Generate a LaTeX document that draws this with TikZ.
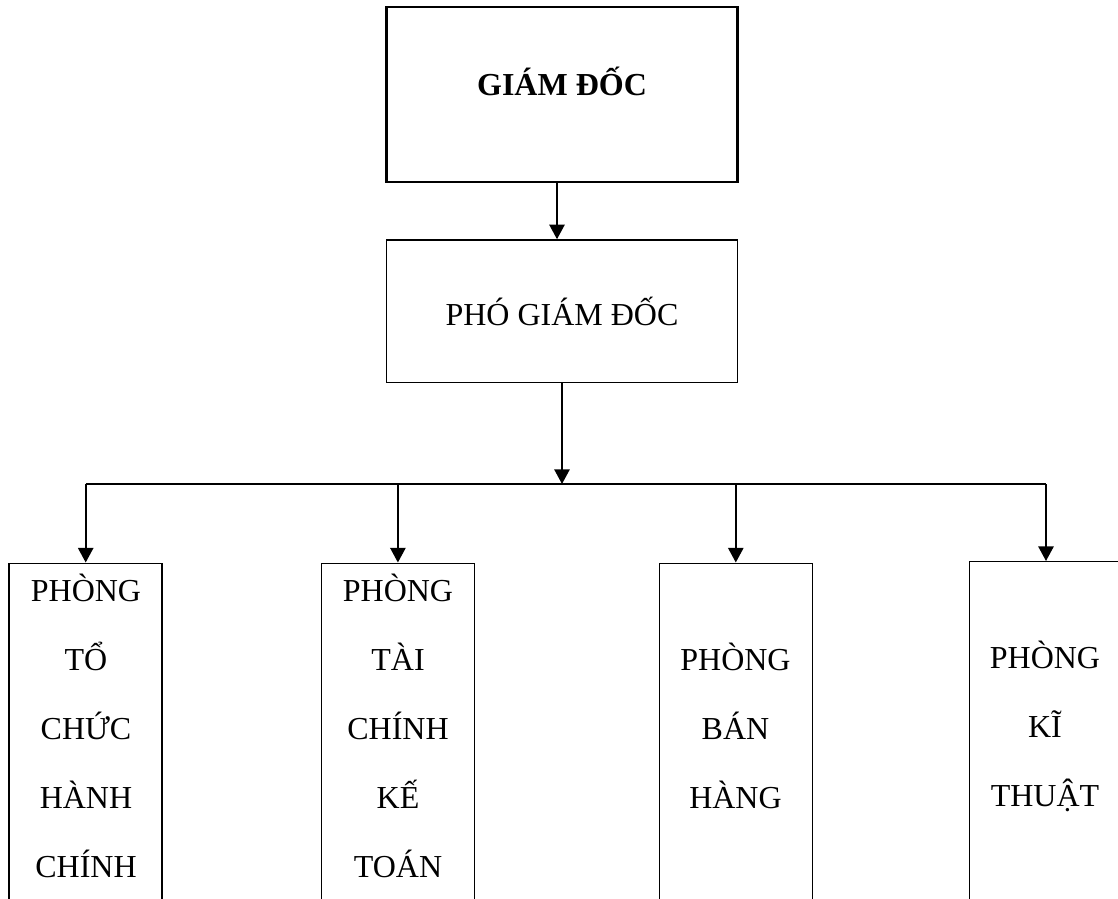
\documentclass[tikz,border=0pt]{standalone}
\usepackage{fontspec}
\setmainfont{Liberation Serif}
\usetikzlibrary{arrows.meta}
\begin{document}
\begin{tikzpicture}[x=0.75pt,y=-0.75pt,
  box/.style={draw, line width=1.1pt, rectangle, inner sep=0pt},
  dept/.style={box, minimum width=114.75pt, minimum height=270pt, anchor=north},
  lbl/.style={inner sep=0pt, anchor=base, font=\fontsize{24}{28}\selectfont},
  conn/.style={line width=1.4pt},
  arr/.style={conn, -{Triangle[length=11pt,width=11.5pt]}}]
\useasboundingbox (0,0) rectangle (1118,899);
\clip (0,0) rectangle (1118,899);
% top
\node[box, line width=1.7pt, minimum width=263.25pt, minimum height=130.8pt] (gd) at (562,94.5) {};
\node[lbl, font=\fontsize{24}{28}\selectfont\bfseries] (gdt) at (562,96) {GIÁM ĐỐC};
\node[box, minimum width=263.25pt, minimum height=107pt] (pho) at (562,311.3) {};
\node[lbl] (phot) at (562,325) {PHÓ GIÁM ĐỐC};
% departments
\node[dept] (b1) at (85.7,562.5) {};
\node[dept] (b2) at (397.9,562.5) {};
\node[dept] (b3) at (735.8,562.5) {};
\node[dept] (b4) at (1046,561) {};
\foreach \t [count=\i] in {PHÒNG,TỔ,CHỨC,HÀNH,CHÍNH}
  \node[lbl] (ta\i) at (86,{601.5+69*(\i-1)}) {\t};
\foreach \t [count=\i] in {PHÒNG,TÀI,CHÍNH,KẾ,TOÁN}
  \node[lbl] (tb\i) at (398,{601.5+69*(\i-1)}) {\t};
\foreach \t [count=\i] in {PHÒNG,BÁN,HÀNG}
  \node[lbl] (tc\i) at (735.5,{670.5+69*(\i-1)}) {\t};
\foreach \t [count=\i] in {PHÒNG,KĨ,THUẬT}
  \node[lbl] (td\i) at (1045,{668+69*(\i-1)}) {\t};
% connectors
\draw[arr] ([xshift=-3.75pt]gd.south) -- ([xshift=-3.75pt]pho.north);
\coordinate (hub) at (562,484);
\draw[arr] (pho.south) -- (hub);
\draw[conn] (b1.north |- hub) -- (b4.north |- hub);
\foreach \b in {b1,b2,b3,b4}
  \draw[arr] (\b.north |- hub) -- (\b.north);
\end{tikzpicture}
\end{document}
